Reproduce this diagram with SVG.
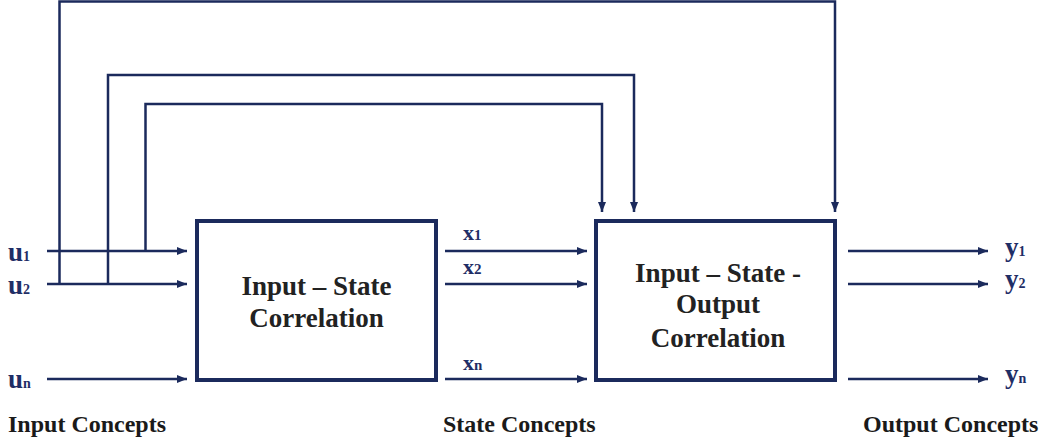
<svg xmlns="http://www.w3.org/2000/svg" width="1040" height="444" viewBox="0 0 1040 444">
<style>
.conn{fill:none;stroke:#1b2a5c;stroke-width:2.5;marker-end:url(#ah)}
.box{fill:#fff;stroke:#1b2a5c;stroke-width:4}
.bt{font-family:"Liberation Serif","Times New Roman",serif;font-weight:bold;font-size:27px;fill:#222;text-anchor:middle}
.lbl{font-family:"Liberation Serif","Times New Roman",serif;font-weight:bold;fill:#1f2e66}
.cap{font-family:"Liberation Serif","Times New Roman",serif;font-weight:bold;font-size:24px;fill:#1a1a1a}
</style>
<defs>
<marker id="ah" markerUnits="userSpaceOnUse" markerWidth="10" markerHeight="8" refX="10" refY="4" orient="auto">
<path d="M0,0 L10,4 L0,8 z" fill="#1b2a5c"/>
</marker>
</defs>
<rect width="1040" height="444" fill="#fff"/>
<g id="connectors">
<path class="conn" d="M47,251 H187"/>
<path class="conn" d="M47,284 H187"/>
<path class="conn" d="M47,379 H187"/>
<path class="conn" d="M59.5,284 V1.5 H835 V212"/>
<path class="conn" d="M108,284 V75 H634 V212"/>
<path class="conn" d="M145.5,251 V104 H602 V212"/>
<path class="conn" d="M445,251 H587"/>
<path class="conn" d="M445,284 H587"/>
<path class="conn" d="M445,379 H587"/>
<path class="conn" d="M848,251 H988"/>
<path class="conn" d="M848,284 H988"/>
<path class="conn" d="M848,379 H988"/>
</g>
<g id="node-input-state">
<rect class="box" x="197" y="221" width="239" height="159"/>
<text class="bt" x="316.5" y="295">Input – State</text>
<text class="bt" x="316.5" y="327">Correlation</text>
</g>
<g id="node-input-state-output">
<rect class="box" x="596" y="221" width="239" height="159"/>
<text class="bt" x="718" y="282">Input – State -</text>
<text class="bt" x="718" y="313">Output</text>
<text class="bt" x="718" y="347">Correlation</text>
</g>
<g id="labels">
<text class="lbl" x="8" y="261" font-size="27">u<tspan font-size="14">1</tspan></text>
<text class="lbl" x="8" y="294" font-size="27">u<tspan font-size="14">2</tspan></text>
<text class="lbl" x="8" y="388" font-size="27">u<tspan font-size="14">n</tspan></text>
<text class="lbl" x="463" y="240" font-size="22">x<tspan font-size="15">1</tspan></text>
<text class="lbl" x="463" y="274" font-size="22">x<tspan font-size="15">2</tspan></text>
<text class="lbl" x="463" y="370" font-size="22">x<tspan font-size="15">n</tspan></text>
<text class="lbl" x="1005" y="256" font-size="27">y<tspan font-size="14">1</tspan></text>
<text class="lbl" x="1005" y="288" font-size="27">y<tspan font-size="14">2</tspan></text>
<text class="lbl" x="1005" y="383" font-size="27">y<tspan font-size="14">n</tspan></text>
<text class="cap" x="8" y="432">Input Concepts</text>
<text class="cap" x="443" y="432">State Concepts</text>
<text class="cap" x="863" y="432">Output Concepts</text>
</g>
</svg>
